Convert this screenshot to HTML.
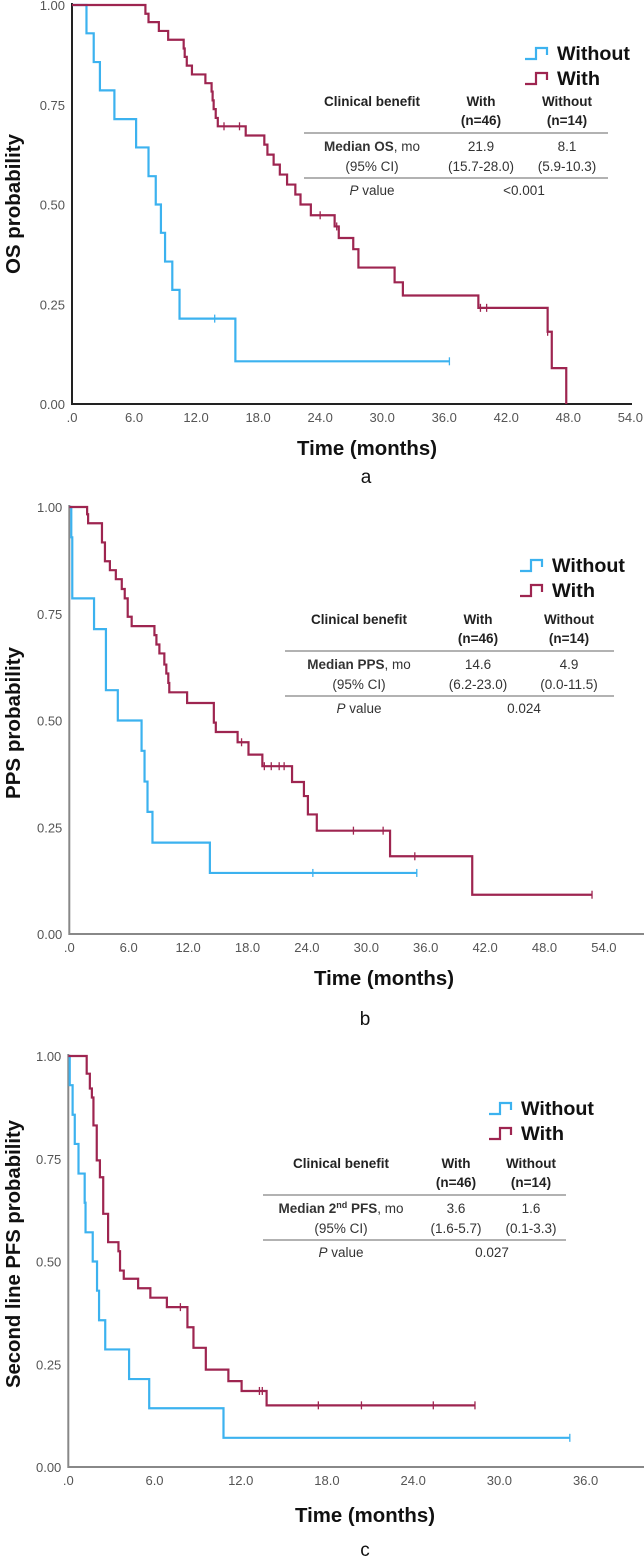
<!DOCTYPE html>
<html><head><meta charset="utf-8">
<style>
html,body{margin:0;padding:0;background:#fff;}
svg{display:block;}
text{font-family:"Liberation Sans Narrow","Liberation Sans",sans-serif;}
.tk{font-size:13px;fill:#555;}
.tt{font-family:"Liberation Sans",sans-serif;font-weight:bold;font-size:20px;fill:#111;}
.lg{font-family:"Liberation Sans",sans-serif;font-weight:bold;font-size:19px;fill:#111;}
.th{font-size:13.5px;font-weight:bold;fill:#222;}
.td{font-size:13.5px;fill:#333;}
.pl{font-family:"Liberation Sans",sans-serif;font-size:19px;fill:#111;}
</style></head>
<body>
<svg id="fig" width="644" height="1557" viewBox="0 0 644 1557" xmlns="http://www.w3.org/2000/svg">
</svg>
<script>
// ---------- Data (months, survival probability) ----------
// Panel a: OS
const osWithT = [7.1,7.4,8.4,9.3,10.8,10.9,11.1,11.6,12.9,13.5,13.6,13.7,13.9,14.1,16.8,18.6,18.9,19.5,20.1,20.8,21.6,22.1,23.1,25.4,25.8,27.2,27.7,31.2,32.0,39.3,46.0,46.4,47.8];
const osWithS = [0.978,0.957,0.935,0.913,0.891,0.870,0.848,0.826,0.804,0.783,0.761,0.739,0.717,0.696,0.673,0.650,0.625,0.600,0.575,0.550,0.525,0.500,0.473,0.445,0.416,0.388,0.342,0.305,0.272,0.241,0.181,0.090,0.0];
const osWithCens = [14.7,16.2,24.0,25.6,39.5,40.1,46.0];
const osWithoutT = [1.4,2.1,2.7,4.1,6.2,7.4,8.1,8.6,9.0,9.7,10.4,15.8];
const osWithoutS = [0.929,0.857,0.786,0.714,0.643,0.571,0.500,0.429,0.357,0.286,0.214,0.107];
const osWithoutCens = [13.8,36.5];
// Panel b: PPS
const ppsWithT = [1.8,1.9,3.3,3.6,4.1,4.7,5.3,5.6,5.9,6.3,8.6,8.8,9.1,9.6,9.8,10.0,10.1,11.9,14.6,14.8,17.0,18.1,19.5,22.5,23.7,24.1,25.0,32.4,40.7];
const ppsWithS = [0.983,0.962,0.917,0.873,0.852,0.831,0.808,0.786,0.743,0.721,0.700,0.678,0.657,0.631,0.610,0.588,0.566,0.541,0.495,0.473,0.449,0.420,0.393,0.356,0.323,0.280,0.242,0.182,0.092];
const ppsWithCens = [17.4,19.7,20.4,21.2,21.7,28.7,31.7,34.9,52.8];
const ppsWithoutT = [0.2,0.3,2.5,3.7,4.9,7.3,7.6,7.9,8.4,14.2];
const ppsWithoutS = [0.929,0.786,0.714,0.571,0.500,0.429,0.357,0.286,0.214,0.143];
const ppsWithoutCens = [24.6,35.1];
// Panel c: second line PFS
const pfsWithT = [1.28,1.5,1.64,1.75,1.98,2.2,2.43,2.77,3.49,3.6,3.86,4.86,5.71,6.86,8.29,8.71,9.57,11.14,12.06,13.8];
const pfsWithS = [0.957,0.921,0.899,0.831,0.746,0.705,0.616,0.547,0.525,0.478,0.458,0.435,0.412,0.389,0.340,0.290,0.237,0.209,0.185,0.150];
const pfsWithCens = [7.8,13.3,13.5,17.4,20.4,25.4,28.3];
const pfsWithoutT = [0.1,0.3,0.45,0.71,1.14,1.2,1.7,2.0,2.14,2.57,4.23,5.63,10.8];
const pfsWithoutS = [0.929,0.857,0.786,0.714,0.643,0.571,0.500,0.429,0.357,0.286,0.214,0.143,0.071];
const pfsWithoutCens = [34.9];
const xTicksA = [".0","6.0","12.0","18.0","24.0","30.0","36.0","42.0","48.0","54.0"];
const xTicksB = [".0","6.0","12.0","18.0","24.0","30.0","36.0","42.0","48.0","54.0"];
const xTicksC = [".0","6.0","12.0","18.0","24.0","30.0","36.0"];
const yTicks = ["0.00","0.25","0.50","0.75","1.00"];

const NS = "http://www.w3.org/2000/svg";
const svg = document.getElementById('fig');
const BLUE = "#3cb2ef", RED = "#9e2550";
function mk(tag, attrs, parent, txt){
  const e = document.createElementNS(NS, tag);
  for (const k in attrs) e.setAttribute(k, attrs[k]);
  if (txt !== undefined) e.textContent = txt;
  (parent||svg).appendChild(e);
  return e;
}

function panel(cfg){
  const g = mk('g', {});
  
  
  const xs = t => cfg.x0 + t * cfg.ppm;
  const ys = s => cfg.yb - s * (cfg.yb - cfg.yt);
  // axes
  const ax = mk('path', {d:`M${cfg.x0} ${cfg.yt-2} V${cfg.yb} H${cfg.xEnd}`, fill:'none', stroke:cfg.axisColor, 'stroke-width':2}, g);
  
  
  // x ticks
  cfg.xTicks.forEach((lab, i) => {
    const t = mk('text', {x: xs(i*6), y: cfg.yb + 18, 'text-anchor':'middle', class:'tk'}, g, lab);
    
    
  });
  yTicks.forEach((lab, i) => {
    const t = mk('text', {x: cfg.x0 - 7, y: ys(i*0.25) + 5, 'text-anchor':'end', class:'tk'}, g, lab);
    
    
  });
  // series
  function series(T, S, C, color, nm){
    let d = `M${xs(0)} ${ys(1)}`;
    let last = 0;
    T.forEach((t, i) => { d += ` H${xs(t)} V${ys(S[i])}`; last = t; });
    const endT = Math.max(last, C.length ? Math.max(...C) : 0);
    d += ` H${xs(endT)}`;
    const p = mk('path', {d, fill:'none', stroke:color, 'stroke-width':2.2}, g);
    
    
    C.forEach(c => {
      let s = 1;
      T.forEach((t, i) => { if (t <= c) s = S[i]; });
      const m = mk('line', {x1: xs(c), x2: xs(c), y1: ys(s)-4, y2: ys(s)+4, stroke:color, 'stroke-width':1.3}, g);
      
      
    });
  }
  series(cfg.woT, cfg.woS, cfg.woC, BLUE, 'without');
  series(cfg.wT, cfg.wS, cfg.wC, RED, 'with');
  // titles
  const yt = mk('text', {x:0, y:0, class:'tt', 'text-anchor':'middle', transform:`translate(${cfg.ytx},${cfg.yty}) rotate(-90)`, textLength: cfg.ytLen, lengthAdjust:'spacingAndGlyphs'}, g, cfg.ytitle);
  
  
  const xt = mk('text', {x: cfg.xtx, y: cfg.xty, class:'tt', 'text-anchor':'middle', textLength:140, lengthAdjust:'spacingAndGlyphs'}, g, 'Time (months)');
  
  
  const pl = mk('text', {x: cfg.plx, y: cfg.ply, class:'pl', 'text-anchor':'middle'}, g, cfg.letter);
  
  
  // legend
  const L = cfg.leg;
  const lg = mk('g', {}, g);
  
  
  mk('path', {d:`M${L.x} ${L.y+6} H${L.x+11} V${L.y-5} H${L.x+22} V${L.y+2}`, fill:'none', stroke:BLUE, 'stroke-width':2.2}, lg);
  const lw = mk('text', {x:L.x+32, y:L.y+7, class:'lg', textLength:73, lengthAdjust:'spacingAndGlyphs'}, lg, 'Without');
  
  
  mk('path', {d:`M${L.x} ${L.y+31} H${L.x+11} V${L.y+20} H${L.x+22} V${L.y+27}`, fill:'none', stroke:RED, 'stroke-width':2.2}, lg);
  const lw2 = mk('text', {x:L.x+32, y:L.y+32, class:'lg', textLength:43, lengthAdjust:'spacingAndGlyphs'}, lg, 'With');
  
  
  // table
  const T = cfg.tab;
  const tg = mk('g', {}, g);
  
  
  mk('text', {x:T.c1, y:T.y+5, class:'th', 'text-anchor':'middle'}, tg, 'Clinical benefit');
  mk('text', {x:T.c2, y:T.y+5, class:'th', 'text-anchor':'middle'}, tg, 'With');
  mk('text', {x:T.c3, y:T.y+5, class:'th', 'text-anchor':'middle'}, tg, 'Without');
  mk('text', {x:T.c2, y:T.y+24, class:'th', 'text-anchor':'middle'}, tg, '(n=46)');
  mk('text', {x:T.c3, y:T.y+24, class:'th', 'text-anchor':'middle'}, tg, '(n=14)');
  mk('line', {x1:T.l1, x2:T.l2, y1:T.y+32, y2:T.y+32, stroke:'#666', 'stroke-width':1}, tg);
  const m = mk('text', {x:T.c1, y:T.y+50, class:'td', 'text-anchor':'middle'}, tg);
  m.innerHTML = cfg.medLabel;
  mk('text', {x:T.c2, y:T.y+50, class:'td', 'text-anchor':'middle'}, tg, cfg.medWith);
  mk('text', {x:T.c3, y:T.y+50, class:'td', 'text-anchor':'middle'}, tg, cfg.medWo);
  mk('text', {x:T.c1, y:T.y+70, class:'td', 'text-anchor':'middle'}, tg, '(95% CI)');
  mk('text', {x:T.c2, y:T.y+70, class:'td', 'text-anchor':'middle'}, tg, cfg.ciWith);
  mk('text', {x:T.c3, y:T.y+70, class:'td', 'text-anchor':'middle'}, tg, cfg.ciWo);
  mk('line', {x1:T.l1, x2:T.l2, y1:T.y+77, y2:T.y+77, stroke:'#666', 'stroke-width':1}, tg);
  const pv = mk('text', {x:T.c1, y:T.y+94, class:'td', 'text-anchor':'middle'}, tg);
  pv.innerHTML = '<tspan font-style="italic">P</tspan> value';
  mk('text', {x:T.pc, y:T.y+94, class:'td', 'text-anchor':'middle'}, tg, cfg.pval);
}

panel({name:'panel-a-os', x0:72, ppm:10.34, yt:5, yb:404, xEnd:632, axisColor:'#222', xTicks:xTicksA,
  wT:osWithT, wS:osWithS, wC:osWithCens, woT:osWithoutT, woS:osWithoutS, woC:osWithoutCens,
  ytitle:'OS probability', ytx:20, yty:204, ytLen:140, xtx:367, xty:455, plx:366, ply:483, letter:'a',
  leg:{x:525, y:53}, tab:{y:101, c1:372, c2:481, c3:567, l1:304, l2:608, pc:524},
  medLabel:'<tspan font-weight="bold">Median OS</tspan>, mo', medWith:'21.9', medWo:'8.1',
  ciWith:'(15.7-28.0)', ciWo:'(5.9-10.3)', pval:'<0.001'});

panel({name:'panel-b-pps', x0:69.3, ppm:9.9, yt:507, yb:934, xEnd:644, axisColor:'#888', xTicks:xTicksB,
  wT:ppsWithT, wS:ppsWithS, wC:ppsWithCens, woT:ppsWithoutT, woS:ppsWithoutS, woC:ppsWithoutCens,
  ytitle:'PPS probability', ytx:20, yty:723, ytLen:152, xtx:384, xty:985, plx:365, ply:1025, letter:'b',
  leg:{x:520, y:565}, tab:{y:619, c1:359, c2:478, c3:569, l1:285, l2:614, pc:524},
  medLabel:'<tspan font-weight="bold">Median PPS</tspan>, mo', medWith:'14.6', medWo:'4.9',
  ciWith:'(6.2-23.0)', ciWo:'(0.0-11.5)', pval:'0.024'});

panel({name:'panel-c-pfs', x0:68.3, ppm:14.37, yt:1056, yb:1467, xEnd:644, axisColor:'#888', xTicks:xTicksC,
  wT:pfsWithT, wS:pfsWithS, wC:pfsWithCens, woT:pfsWithoutT, woS:pfsWithoutS, woC:pfsWithoutCens,
  ytitle:'Second line PFS probability', ytx:20, yty:1254, ytLen:268, xtx:365, xty:1522, plx:365, ply:1556, letter:'c',
  leg:{x:489, y:1108}, tab:{y:1163, c1:341, c2:456, c3:531, l1:263, l2:566, pc:492},
  medLabel:'<tspan font-weight="bold">Median 2</tspan><tspan font-weight="bold" font-size="9" dy="-5">nd</tspan><tspan font-weight="bold" dy="5"> PFS</tspan>, mo', medWith:'3.6', medWo:'1.6',
  ciWith:'(1.6-5.7)', ciWo:'(0.1-3.3)', pval:'0.027'});
</script>
</body></html>
